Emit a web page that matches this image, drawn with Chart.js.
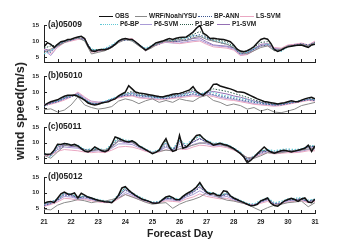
<!DOCTYPE html>
<html>
<head>
<meta charset="utf-8">
<script src="https://cdn.jsdelivr.net/npm/chart.js@4.4.1/dist/chart.umd.min.js"></script>
<style>
body{margin:0;background:#fff;width:343px;height:246px;overflow:hidden;position:relative;font-family:"Liberation Sans",Arial,sans-serif;font-weight:bold;color:#222}
canvas{position:absolute;left:0;top:0}
.lg{position:absolute;font-size:6.5px;line-height:8px;white-space:nowrap}
.sw{position:absolute;height:0;border-top-width:1px;border-top-style:solid}
#ytitle{position:absolute;left:20px;top:111px;font-size:12.5px;white-space:nowrap;transform:translate(-50%,-50%) rotate(-90deg)}
#xtitle{position:absolute;left:180px;top:233px;font-size:10.5px;white-space:nowrap;transform:translate(-50%,-50%)}
</style>
</head>
<body>
<canvas id="ca" width="343" height="246"></canvas>
<canvas id="cb" width="343" height="246"></canvas>
<canvas id="cc" width="343" height="246"></canvas>
<canvas id="cd" width="343" height="246"></canvas>
<div id="legend"></div>
<div id="ytitle">wind speed(m/s)</div>
<div id="xtitle">Forecast Day</div>
<script>
// series names, station ids and tick values
const seriesNames = ['OBS', 'WRF/Noah/YSU', 'BP-ANN', 'LS-SVM', 'P6-BP', 'P6-SVM', 'P1-BP', 'P1-SVM'];
const stations = ['(a)05009', '(b)05010', '(c)05011', '(d)05012'];
const yTicks = [5, 10, 15];
const dayTicks = [21, 22, 23, 24, 25, 26, 27, 28, 29, 30, 31];

// OBS every 3 h, models every 6 h, from day 21 to day 31
const obsA = [8.2,9.5,9.0,8.0,9.0,9.8,10.0,10.5,10.6,11.0,11.3,11.5,10.8,8.5,7.0,6.8,7.2,7.4,7.3,7.6,8.2,9.0,10.0,10.6,10.8,10.6,10.5,9.8,8.9,8.0,7.2,7.8,8.6,9.4,9.7,10.0,10.4,10.8,10.5,10.9,11.1,11.2,11.3,12.0,12.8,14.0,14.9,12.5,11.8,10.8,10.9,10.7,10.6,10.5,10.2,9.8,8.8,7.5,6.9,6.7,7.0,7.6,8.3,9.5,10.5,10.9,10.6,9.2,7.3,6.8,7.2,7.8,8.2,8.4,8.6,8.7,8.8,8.4,8.0,8.8,9.0];
const wrfA = [6.5,7.5,8.5,9.5,10.5,11.0,10.0,6.0,6.5,7.0,8.0,9.5,10.5,10.0,8.5,7.0,8.0,9.5,10.0,10.0,10.5,10.2,11.0,11.5,10.5,10.0,9.5,9.0,8.0,6.5,6.0,7.0,8.0,8.5,7.0,7.5,8.5,8.5,9.0,8.5,9.5];
const bpA = [7.0,6.5,8.5,9.8,10.2,11.0,10.5,7.2,7.0,7.5,8.5,10.0,10.2,10.5,9.0,7.5,8.5,9.0,10.2,9.8,10.0,10.5,11.5,12.0,11.0,10.0,9.5,9.0,7.8,6.0,6.3,7.5,8.5,8.8,7.5,7.0,8.5,8.8,9.2,8.8,9.6];
const lsA = [7.5,6.0,8.0,9.5,10.0,10.5,10.8,6.5,6.8,7.2,8.0,9.8,10.5,10.8,8.8,7.0,8.2,9.0,9.8,9.5,9.2,9.5,9.8,10.0,9.0,8.2,8.0,7.8,7.2,5.5,5.8,7.0,8.5,8.5,8.0,7.8,8.8,9.0,9.4,8.8,10.0];
const p6bpA = [6.0,7.0,8.8,10.0,10.4,11.2,10.2,7.5,7.2,7.8,8.8,10.2,10.6,10.2,8.8,7.8,8.8,9.5,10.0,10.2,10.5,11.0,11.8,11.5,10.8,10.2,9.8,9.2,8.0,6.2,6.5,7.6,8.4,9.0,7.2,6.8,8.2,8.6,9.0,8.5,9.4];
const p6svmA = [7.2,5.5,8.2,9.6,10.2,10.8,10.6,6.8,6.8,7.4,8.2,10.0,10.4,10.6,8.6,7.2,8.4,9.2,9.6,9.4,9.4,9.8,10.2,10.4,9.4,8.6,8.4,8.2,7.4,5.6,6.0,7.2,8.6,8.8,7.8,7.6,8.6,9.0,9.2,8.6,9.8];
const p1bpA = [7.8,8.5,8.8,10.0,10.6,11.2,10.6,7.2,7.4,7.4,8.4,10.0,10.6,10.4,8.9,7.4,8.6,9.6,10.2,10.2,10.8,11.0,12.0,13.0,11.2,10.4,10.2,9.6,8.4,6.8,6.8,8.0,9.6,9.8,7.4,7.2,8.4,8.6,8.8,8.2,9.2];
const p1svmA = [7.6,7.0,8.6,9.8,10.4,11.0,10.6,6.8,7.0,7.2,8.2,9.8,10.6,10.4,8.8,7.0,8.4,9.4,10.0,9.8,10.0,10.2,10.8,11.0,9.8,8.8,8.6,8.4,7.8,6.0,6.4,7.6,9.0,9.2,7.6,7.4,8.6,8.8,9.0,8.4,9.6];

const obsB = [5.8,6.5,7.0,7.3,7.6,8.2,8.7,9.0,9.0,9.1,8.7,8.1,7.5,6.6,6.2,6.0,6.2,6.6,6.8,7.0,7.5,7.9,8.8,9.4,10.0,12.0,11.0,10.0,9.7,9.6,9.4,9.2,9.0,8.8,8.6,8.5,8.8,9.0,9.3,9.5,9.6,9.9,10.3,10.7,11.7,10.2,9.5,9.0,10.0,10.8,12.4,12.5,11.9,11.6,11.3,11.0,10.6,10.1,10.0,9.9,9.4,8.9,8.4,7.9,7.5,7.1,6.9,6.7,6.5,6.3,6.5,6.7,7.0,7.3,7.1,7.0,7.5,7.9,8.2,8.4,7.9];
const wrfB = [4.5,4.8,3.8,4.4,6.0,8.5,6.0,5.2,4.7,5.0,5.5,7.2,7.9,7.4,6.4,7.3,7.9,6.8,7.4,6.8,7.9,7.4,7.1,8.4,9.0,7.4,6.8,5.8,6.3,5.8,4.7,5.2,4.1,4.7,3.8,3.6,4.1,4.7,5.8,6.3,6.8];
const bpB = [5.5,6.5,7.0,8.0,8.5,9.5,7.5,6.5,6.5,7.0,7.8,8.5,9.0,9.2,8.8,8.6,8.4,8.2,8.0,8.4,8.8,9.0,9.5,9.0,9.8,9.2,8.8,8.4,8.0,7.6,7.2,6.8,6.5,6.2,6.0,6.0,6.4,6.8,7.2,7.6,7.4];
const lsB = [6.0,6.2,6.8,7.5,8.5,10.0,8.5,7.0,6.8,6.8,7.5,8.2,8.6,8.8,8.2,8.0,7.8,7.6,7.8,8.0,8.3,8.5,8.8,8.5,9.0,8.6,8.0,7.6,7.4,7.0,6.6,6.2,6.0,5.8,5.6,5.8,6.2,6.6,7.0,7.4,7.2];
const p6bpB = [5.8,6.8,7.2,8.2,8.8,9.2,7.6,6.6,6.6,7.2,8.0,8.8,9.4,9.6,9.0,8.8,8.5,8.2,8.4,8.8,9.0,9.4,10.0,9.2,10.2,9.8,9.2,8.8,8.4,8.0,7.6,7.0,6.6,6.2,6.0,6.2,6.6,7.0,7.4,7.8,7.6];
const p6svmB = [6.2,6.4,7.0,7.8,8.6,9.8,8.2,7.2,6.9,7.0,7.6,8.4,8.8,9.0,8.4,8.2,8.0,7.8,8.0,8.2,8.6,8.8,9.2,8.8,9.4,9.0,8.4,8.0,7.7,7.3,6.9,6.4,6.2,6.0,5.8,6.0,6.4,6.8,7.2,7.6,7.3];
const p1bpB = [5.6,6.8,7.4,8.4,8.8,8.8,7.4,6.2,6.2,6.8,7.4,8.6,9.6,10.2,9.4,9.0,8.8,8.4,8.6,9.0,9.4,9.8,10.8,9.4,10.0,11.0,10.6,10.2,9.6,9.0,8.4,7.6,7.0,6.6,6.2,6.3,6.8,7.0,7.4,8.0,7.8];
const p1svmB = [6.0,6.6,7.2,8.2,8.8,9.4,7.8,6.6,6.4,6.9,7.6,8.5,9.2,9.8,9.0,8.8,8.6,8.3,8.5,8.8,9.2,9.6,10.2,9.2,9.8,10.2,9.8,9.4,8.8,8.4,7.8,7.2,6.8,6.4,6.1,6.2,6.6,6.9,7.3,7.8,7.6];

const obsC = [6.5,6.2,6.4,7.6,9.5,9.4,9.7,9.6,9.2,9.5,9.0,8.1,7.3,7.0,7.6,8.6,8.0,7.4,7.1,7.6,9.5,11.8,11.4,10.9,10.4,10.2,10.6,10.0,9.0,8.4,7.8,7.1,6.5,6.9,7.6,9.6,11.3,8.5,7.2,7.6,12.3,8.2,8.6,9.6,11.0,12.3,12.5,11.4,10.5,10.0,9.2,9.5,9.8,9.4,9.2,8.7,8.1,7.3,6.5,5.4,3.6,4.3,5.4,6.5,7.6,8.6,7.6,7.0,6.6,7.0,7.4,7.6,7.3,7.0,7.3,7.6,7.9,8.2,9.2,7.2,9.0];
const wrfC = [6.0,5.0,7.0,9.0,9.2,8.6,7.6,7.4,7.8,7.6,8.5,10.5,10.6,10.2,8.8,7.6,6.8,7.2,7.6,7.4,8.0,8.6,9.2,9.8,10.0,9.6,9.4,8.8,7.8,6.6,5.2,5.0,5.8,6.8,6.6,6.8,7.2,7.4,7.6,8.0,8.2];
const bpC = [6.2,6.0,8.0,9.2,9.0,8.8,7.8,7.6,7.8,7.4,8.8,10.8,10.4,10.2,8.8,7.6,6.8,7.4,9.0,7.8,9.5,8.8,10.2,11.2,10.2,9.6,9.6,9.2,8.2,6.8,4.8,5.4,6.8,7.4,7.0,7.4,7.6,7.4,7.8,8.6,8.8];
const lsC = [5.8,6.0,7.2,7.8,7.6,7.4,7.0,6.8,7.0,6.8,7.6,8.6,8.8,8.6,8.0,7.2,6.8,7.0,7.8,7.2,8.0,7.8,8.6,9.2,9.0,8.6,8.8,8.4,7.6,6.6,5.2,5.4,6.2,6.8,6.4,6.6,6.8,6.8,7.0,7.4,7.4];
const p6bpC = [6.6,5.4,9.0,9.8,9.4,9.2,7.8,8.0,8.2,7.6,9.6,11.6,10.8,10.6,9.2,8.0,7.0,7.8,10.0,8.0,10.6,9.4,11.2,12.0,10.8,9.8,10.0,9.4,8.4,7.0,4.8,5.8,7.4,7.8,7.4,7.8,8.0,7.8,8.0,8.8,9.2];
const p6svmC = [6.0,5.8,7.8,8.6,8.4,8.2,7.4,7.2,7.4,7.0,8.2,9.6,9.6,9.4,8.4,7.4,6.8,7.2,8.6,7.4,8.8,8.2,9.4,10.0,9.6,9.0,9.2,8.8,7.8,6.6,4.6,5.2,6.4,7.0,6.6,6.9,7.1,7.0,7.2,7.8,8.0];
const p1bpC = [6.4,6.2,9.2,9.6,9.2,9.0,7.6,7.6,8.0,7.2,9.4,11.2,10.4,10.4,9.0,7.8,6.6,7.6,10.6,7.6,11.4,8.8,10.8,12.2,10.4,9.4,9.8,9.2,8.2,6.6,3.9,5.4,7.4,7.6,6.8,7.4,7.4,7.4,7.9,9.0,8.8];
const p1svmC = [6.2,6.2,8.6,9.2,8.8,8.6,7.4,7.4,7.8,7.2,8.8,10.6,10.0,10.0,8.8,7.6,6.6,7.4,9.8,7.4,10.4,8.6,10.2,11.4,10.0,9.2,9.4,9.0,8.0,6.6,4.2,5.4,7.0,7.4,6.8,7.2,7.2,7.2,7.6,8.6,8.6];

const obsD = [6.6,7.0,7.2,6.8,8.2,9.6,10.2,9.6,9.5,9.9,8.3,9.8,9.2,8.6,8.3,7.9,7.6,7.3,7.1,7.0,6.8,7.8,9.2,11.5,11.9,10.8,9.9,9.1,8.5,7.9,7.6,7.2,6.7,6.6,6.8,7.8,8.6,8.9,8.4,7.7,7.8,8.8,9.6,10.2,10.9,11.8,13.2,11.5,10.2,9.5,9.9,9.2,9.0,10.6,10.4,9.0,8.3,7.8,7.3,6.8,6.3,5.8,5.9,6.3,7.4,7.8,8.3,6.6,5.9,5.7,6.5,7.4,7.8,8.2,7.8,7.2,8.0,8.3,7.0,6.8,7.9];
const wrfD = [4.7,4.5,6.0,6.8,7.2,7.8,7.4,6.8,7.2,7.3,7.8,8.3,9.4,8.6,7.8,6.9,6.3,6.6,6.8,5.0,6.3,7.2,7.8,8.6,9.9,9.4,8.3,7.6,7.3,6.8,6.3,5.2,4.2,5.2,6.0,6.3,6.8,7.0,7.3,5.5,6.8];
const bpD = [5.8,6.5,7.6,9.2,9.0,8.4,8.6,8.0,7.4,7.0,7.0,8.8,10.8,9.6,8.4,7.4,6.8,7.0,8.2,8.0,7.6,9.0,10.0,11.6,10.0,9.4,8.8,9.4,8.0,7.0,6.2,6.0,7.0,8.0,6.4,6.8,7.6,7.8,8.0,7.2,7.8];
const lsD = [5.6,6.2,7.0,8.2,8.0,7.6,7.8,7.4,7.0,6.8,6.8,8.0,9.4,8.8,7.8,7.0,6.6,6.8,7.4,7.2,7.0,8.0,8.6,9.6,8.8,8.4,8.0,8.2,7.4,6.8,6.2,6.0,6.6,7.2,6.2,6.4,7.0,7.2,7.4,6.8,7.2];
const p6bpD = [6.4,7.0,8.0,9.8,9.6,8.6,9.0,8.4,7.8,7.4,7.2,9.4,11.6,10.0,8.8,7.8,7.0,7.2,8.6,8.4,8.0,9.6,10.6,12.6,10.4,9.8,9.2,9.8,8.4,7.6,6.6,6.4,7.6,8.4,6.8,7.2,8.0,8.2,8.4,7.6,8.0];
const p6svmD = [5.8,6.4,7.4,8.8,8.6,8.0,8.2,7.8,7.2,6.9,6.9,8.4,10.0,9.2,8.0,7.2,6.7,6.9,7.8,7.6,7.3,8.6,9.4,10.6,9.4,8.9,8.4,8.8,7.7,7.0,6.3,6.1,6.9,7.6,6.4,6.6,7.3,7.5,7.7,7.0,7.5];
const p1bpD = [6.4,7.0,8.0,10.0,9.4,8.4,9.0,8.2,7.6,7.1,6.9,9.0,11.6,9.8,8.4,7.5,6.8,6.9,8.4,8.2,7.8,9.4,10.6,12.8,10.2,9.8,9.0,10.0,8.2,7.2,6.3,6.0,7.3,8.2,6.2,6.6,7.8,7.8,8.0,7.1,7.9];
const p1svmD = [6.2,6.8,7.8,9.6,9.2,8.2,8.8,8.0,7.4,7.0,6.9,8.8,11.0,9.6,8.2,7.4,6.8,6.9,8.2,8.0,7.6,9.2,10.2,12.0,9.8,9.4,8.8,9.6,8.0,7.1,6.3,6.0,7.2,8.0,6.2,6.6,7.6,7.7,7.9,7.0,7.7];

const panelData = [
    [obsA, wrfA, bpA, lsA, p6bpA, p6svmA, p1bpA, p1svmA],
    [obsB, wrfB, bpB, lsB, p6bpB, p6svmB, p1bpB, p1svmB],
    [obsC, wrfC, bpC, lsC, p6bpC, p6svmC, p1bpC, p1svmC],
    [obsD, wrfD, bpD, lsD, p6bpD, p6svmD, p1bpD, p1svmD],
];

// look of each series
const seriesStyle = [
    {color: '#111111', width: 1.5, dash: []},
    {color: '#8a8a8a', width: 1, dash: []},
    {color: '#3d568f', width: 1, dash: [1.5, 1.5]},
    {color: '#eaa7c2', width: 1, dash: []},
    {color: '#5ec7d4', width: 1.1, dash: [1.5, 1.5]},
    {color: '#a99bd6', width: 1, dash: []},
    {color: '#2f5d4c', width: 1, dash: [1.5, 1.5]},
    {color: '#946fb3', width: 1, dash: []},
];

// chart area of each panel, in px
const panelBox = [
    {top: 25, bottom: 62},
    {top: 76, bottom: 113},
    {top: 127, bottom: 163},
    {top: 177, bottom: 213},
];
const plotLeft = 44, plotRight = 315;

// legend: 2 rows x 4
const legendSlots = [
    {x: 99, y: 16, w: 14}, {x: 135, y: 16, w: 12}, {x: 198, y: 16, w: 14}, {x: 240, y: 16, w: 14},
    {x: 100, y: 24, w: 18}, {x: 140, y: 24, w: 12}, {x: 180, y: 24, w: 13}, {x: 217, y: 24, w: 13},
];

const legend = document.getElementById('legend');
seriesNames.forEach((name, i) => {
    const s = legendSlots[i], st = seriesStyle[i];
    const sw = document.createElement('div');
    sw.className = 'sw';
    sw.style.left = s.x + 'px';
    sw.style.top = (s.y - 0.5) + 'px';
    sw.style.width = s.w + 'px';
    sw.style.borderTopColor = st.color;
    sw.style.borderTopWidth = (i === 0 ? 1.4 : 1) + 'px';
    if (st.dash.length) sw.style.borderTopStyle = 'dotted';
    legend.appendChild(sw);
    const t = document.createElement('div');
    t.className = 'lg';
    t.textContent = name;
    t.style.left = (s.x + s.w + 2) + 'px';
    t.style.top = (s.y - 4) + 'px';
    legend.appendChild(t);
});

Chart.defaults.font.family = '"Liberation Sans", Arial, sans-serif';
Chart.defaults.font.weight = 'bold';
Chart.defaults.color = '#222';

// inward tick marks and the station label
const panelDeco = {
    id: 'panelDeco',
    afterDraw(chart, args, opts) {
        const {ctx, chartArea: a, scales: {x, y}} = chart;
        ctx.save();
        ctx.strokeStyle = '#222';
        ctx.lineWidth = 1;
        ctx.beginPath();
        x.ticks.forEach(t => {
            const px = Math.round(x.getPixelForValue(t.value)) + 0.5;
            ctx.moveTo(px, a.bottom);
            ctx.lineTo(px, a.bottom - 3);
        });
        y.ticks.forEach(t => {
            const py = Math.round(y.getPixelForValue(t.value)) + 0.5;
            ctx.moveTo(a.left, py);
            ctx.lineTo(a.left + 3, py);
        });
        ctx.stroke();
        ctx.font = 'bold 8.5px "Liberation Sans", Arial, sans-serif';
        ctx.fillStyle = '#222';
        ctx.textBaseline = 'middle';
        ctx.fillText(opts.label, a.left + 4, a.top);
        ctx.restore();
    }
};

const canvasIds = ['ca', 'cb', 'cc', 'cd'];
canvasIds.forEach((id, p) => {
    const last = p === canvasIds.length - 1;
    const box = panelBox[p];
    const xHeight = last ? 246 - box.bottom : 0;
    const datasets = panelData[p].map((vals, i) => {
        const step = 10 / (vals.length - 1);
        return {
            label: seriesNames[i],
            data: vals.map((v, k) => ({x: 21 + k * step, y: v})),
            borderColor: seriesStyle[i].color,
            borderWidth: seriesStyle[i].width,
            borderDash: seriesStyle[i].dash,
            pointRadius: 0,
            tension: 0,
            fill: false,
        };
    });
    new Chart(document.getElementById(id).getContext('2d'), {
        type: 'line',
        data: {datasets: datasets},
        options: {
            responsive: false,
            animation: false,
            events: [],
            layout: {
                padding: {left: 0, right: 343 - plotRight, top: box.top, bottom: 246 - box.bottom - xHeight},
            },
            plugins: {
                legend: {display: false},
                tooltip: {enabled: false},
                panelDeco: {label: stations[p]},
            },
            scales: {
                x: {
                    type: 'linear',
                    min: 21,
                    max: 31,
                    afterFit: s => { s.height = xHeight; },
                    grid: {display: false, drawTicks: false},
                    border: {display: true, color: '#222', width: 1},
                    ticks: {
                        display: last,
                        stepSize: 0.5,
                        autoSkip: false,
                        maxRotation: 0,
                        padding: 5,
                        font: {size: 6.5, weight: 'bold'},
                        callback: v => dayTicks.includes(v) ? String(v) : '',
                    },
                },
                y: {
                    min: 3.5,
                    max: 15,
                    afterFit: s => { s.width = plotLeft; },
                    afterBuildTicks: s => { s.ticks = yTicks.map(v => ({value: v})); },
                    grid: {display: false, drawTicks: false},
                    border: {display: true, color: '#222', width: 1},
                    ticks: {padding: 5, font: {size: 6, weight: 'bold'}},
                },
            },
        },
        plugins: [panelDeco],
    });
});
</script>
</body>
</html>
